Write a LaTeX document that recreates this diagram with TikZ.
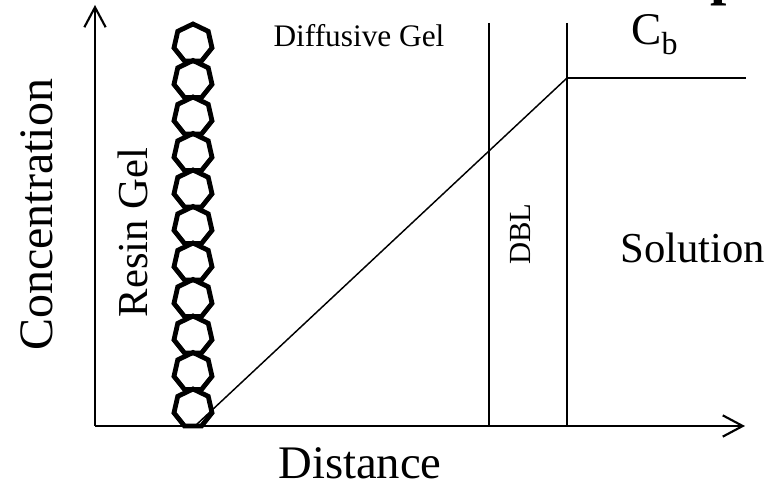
\documentclass[tikz,border=0pt]{standalone}
\usepackage{fontspec}
\setmainfont{Liberation Serif}
\usetikzlibrary{arrows.meta}
\tikzset{
  axisline/.style={line width=1.6pt,-{Straight Barb[length=15pt,width=16pt,line width=1.6pt]}},
  boundary/.style={line width=1.7pt},
  profile/.style={line width=1.1pt},
  bead/.style={line width=3.6pt,line join=miter},
  lbl/.style={inner sep=0pt,anchor=base},
}
\newcommand{\fs}[1]{\fontsize{#1}{#1}\selectfont}
\begin{document}
\begin{tikzpicture}[x=0.75pt,y=-0.75pt]
\useasboundingbox (0,0) rectangle (769,484);
\clip (0,0) rectangle (769,484);
% key points
\coordinate (O) at (95,426);
\coordinate (Ytop) at (95,5);
\coordinate (Xend) at (745,426);
\coordinate (D1top) at (489,23);
\coordinate (D1bot) at (489,426);
\coordinate (D2top) at (567,23);
\coordinate (D2bot) at (567,426);
\coordinate (Knee) at (567,78);
\coordinate (Cbend) at (746,78);
\coordinate (Start) at (195,426);
% resin beads (heptagons)
\foreach \i in {0,...,10}{
  \begin{scope}[shift={(193,43.5+36.5*\i)}]
    \draw[bead] (-90:19.5) -- (-90+360/7:19.5) -- (-90+720/7:19.5) -- (-90+1080/7:19.5)
      -- (-90+1440/7:19.5) -- (-90+1800/7:19.5) -- (-90+2160/7:19.5) -- cycle;
  \end{scope}
}
% axes
\draw[axisline] (O) -- (Ytop);
\draw[axisline] (O) -- (Xend);
% boundaries
\draw[boundary] (D1top) -- (D1bot);
\draw[boundary] (D2top) -- (D2bot);
\draw[line width=2pt] (Knee) -- (Cbend);
% concentration profile
\draw[profile] (Start) -- (Knee);
% labels
\node[lbl,rotate=90] (conc) at (52,215) {\fs{36pt}Concentration};
\node[lbl,rotate=90] (resin) at (147,232.5) {\fs{32pt}Resin Gel};
\node[lbl,rotate=90] (dbl) at (530,234) {\fs{23pt}DBL};
\node[lbl] (diff) at (359,47) {\fs{23.5pt}Diffusive Gel};
\node[lbl] (sol) at (693,263) {\fs{32pt}Solution};
\node[lbl] (dist) at (360,479) {\fs{35pt}\raisebox{0pt}[\height][0pt]{Distance}};
\node[lbl,anchor=base west] (cb) at (631,45) {\fs{34pt}C\raisebox{-7.5pt}{\fs{24pt}b}};
\node[lbl] (ptitle) at (727,-6) {\fs{44pt}\bfseries p};
\end{tikzpicture}
\end{document}
